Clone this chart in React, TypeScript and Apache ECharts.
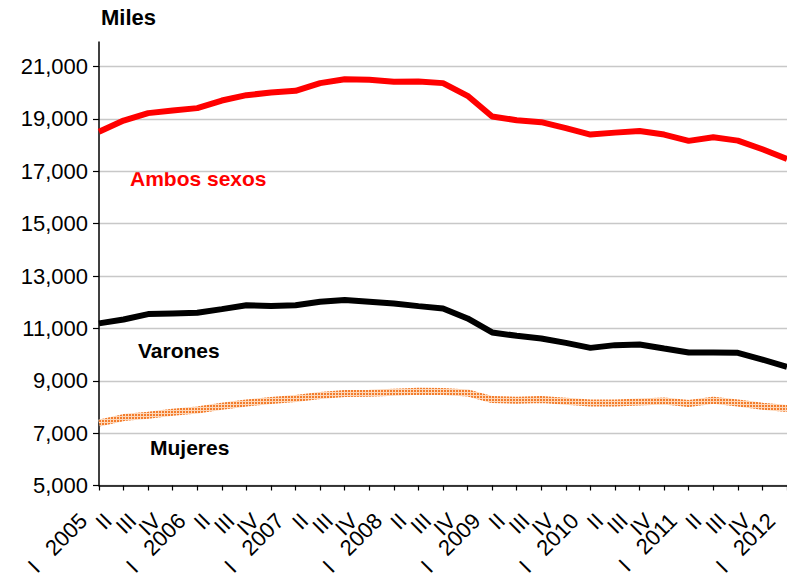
import React, { useEffect, useRef } from "react";
import * as echarts from "echarts";

const categories = [
  "2005-I", "2005-II", "2005-III", "2005-IV",
  "2006-I", "2006-II", "2006-III", "2006-IV",
  "2007-I", "2007-II", "2007-III", "2007-IV",
  "2008-I", "2008-II", "2008-III", "2008-IV",
  "2009-I", "2009-II", "2009-III", "2009-IV",
  "2010-I", "2010-II", "2010-III", "2010-IV",
  "2011-I", "2011-II", "2011-III", "2011-IV",
  "2012-I",
];

const ambosSexos = [
  18510, 18935, 19220, 19320, 19410, 19700, 19905, 20005, 20070, 20365,
  20515, 20490, 20415, 20425, 20365, 19880, 19090, 18950, 18875, 18645,
  18400, 18475, 18540, 18400, 18160, 18300, 18170, 17840, 17470,
];

const varones = [
  11190, 11340, 11545, 11570, 11595, 11735, 11885, 11850, 11885, 12015,
  12080, 12015, 11950, 11850, 11760, 11380, 10845, 10715, 10615, 10445,
  10255, 10360, 10385, 10230, 10080, 10080, 10065, 9810, 9530,
];

const mujeres = [
  7385, 7595, 7680, 7795, 7885, 8025, 8150, 8245, 8320, 8435,
  8510, 8520, 8560, 8600, 8585, 8535, 8280, 8255, 8280, 8215,
  8150, 8150, 8190, 8230, 8130, 8255, 8150, 8025, 7935,
];

const yMin = 5000;
const yMax = 21000;
const yInterval = 2000;

const FONT = "'Liberation Sans', Arial, Helvetica, sans-serif";
const NB = "\u00a0";

function makeDotPattern(): HTMLCanvasElement {
  const c = document.createElement("canvas");
  c.width = 3;
  c.height = 3;
  const ctx = c.getContext("2d");
  if (ctx) {
    ctx.fillStyle = "rgba(253,215,185,1)";
    ctx.fillRect(0, 0, 3, 3);
    ctx.fillStyle = "rgba(243,125,45,1)";
    ctx.fillRect(0, 0, 2, 2);
  }
  return c;
}

export default function App() {
  const ref = useRef<HTMLDivElement>(null);

  useEffect(() => {
    if (!ref.current) return;
    const chart = echarts.init(ref.current, null, { renderer: "svg" });
    const pattern = makeDotPattern();

    const option: any = {
      animation: false,
      backgroundColor: "#ffffff",
      grid: { left: 99, right: -2, top: 66.5, bottom: 93.5, containLabel: false },
      xAxis: {
        type: "category",
        data: categories,
        boundaryGap: false,
        axisLine: { show: true, lineStyle: { color: "#000", width: 1.5 } },
        axisTick: { show: true, length: 5, inside: false, lineStyle: { color: "#000", width: 1.2 } },
        axisLabel: {
          interval: 0,
          rotate: 45,
          margin: 16,
          padding: [0, 22, 0, 0],
          fontFamily: FONT,
          fontSize: 22,
          color: "#000",
          formatter: (v: string) => {
            const [y, q] = v.split("-");
            return q === "I" ? "I" + NB + NB + NB + y : q;
          },
        },
        splitLine: { show: false },
      },
      yAxis: {
        type: "value",
        min: yMin,
        max: yMax,
        interval: yInterval,
        axisLine: { show: true, lineStyle: { color: "#000", width: 1.5 } },
        axisTick: { show: true, length: 6, lineStyle: { color: "#000", width: 1.2 } },
        axisLabel: {
          margin: 11,
          fontFamily: FONT,
          fontSize: 22,
          color: "#000",
          formatter: (v: number) => v.toLocaleString("en-US"),
        },
        splitLine: { show: true, lineStyle: { color: "#c8c8c8", width: 1.3 } },
      },
      graphic: [
        {
          type: "line",
          shape: { x1: 99, y1: 41.5, x2: 99, y2: 67 },
          style: { stroke: "#000", lineWidth: 1.5 },
        },
        {
          type: "text",
          x: 101,
          y: 17,
          style: {
            text: "Miles",
            font: `bold 22px ${FONT}`,
            fill: "#000",
            verticalAlign: "middle",
          },
        },
        {
          type: "text",
          x: 130,
          y: 178,
          style: {
            text: "Ambos sexos",
            font: `bold 21px ${FONT}`,
            fill: "#ff0000",
            verticalAlign: "middle",
          },
        },
        {
          type: "text",
          x: 138,
          y: 350,
          style: {
            text: "Varones",
            font: `bold 21px ${FONT}`,
            fill: "#000",
            verticalAlign: "middle",
          },
        },
        {
          type: "text",
          x: 150,
          y: 447,
          style: {
            text: "Mujeres",
            font: `bold 21px ${FONT}`,
            fill: "#000",
            verticalAlign: "middle",
          },
        },
      ],
      series: [
        {
          name: "Mujeres",
          type: "line",
          data: mujeres,
          showSymbol: false,
          symbol: "none",
          lineStyle: {
            width: 7,
            color: { image: pattern, repeat: "repeat", imageWidth: 3, imageHeight: 3 },
          },
          z: 2,
        },
        {
          name: "Varones",
          type: "line",
          data: varones,
          showSymbol: false,
          symbol: "none",
          lineStyle: { width: 6, color: "#000000" },
          z: 3,
        },
        {
          name: "Ambos sexos",
          type: "line",
          data: ambosSexos,
          showSymbol: false,
          symbol: "none",
          lineStyle: { width: 6, color: "#ff0000" },
          z: 4,
        },
      ],
    };

    chart.setOption(option);
    return () => chart.dispose();
  }, []);

  return (
    <div
      ref={ref}
      style={{ position: "absolute", left: 0, top: 0, width: 787, height: 579 }}
    />
  );
}
